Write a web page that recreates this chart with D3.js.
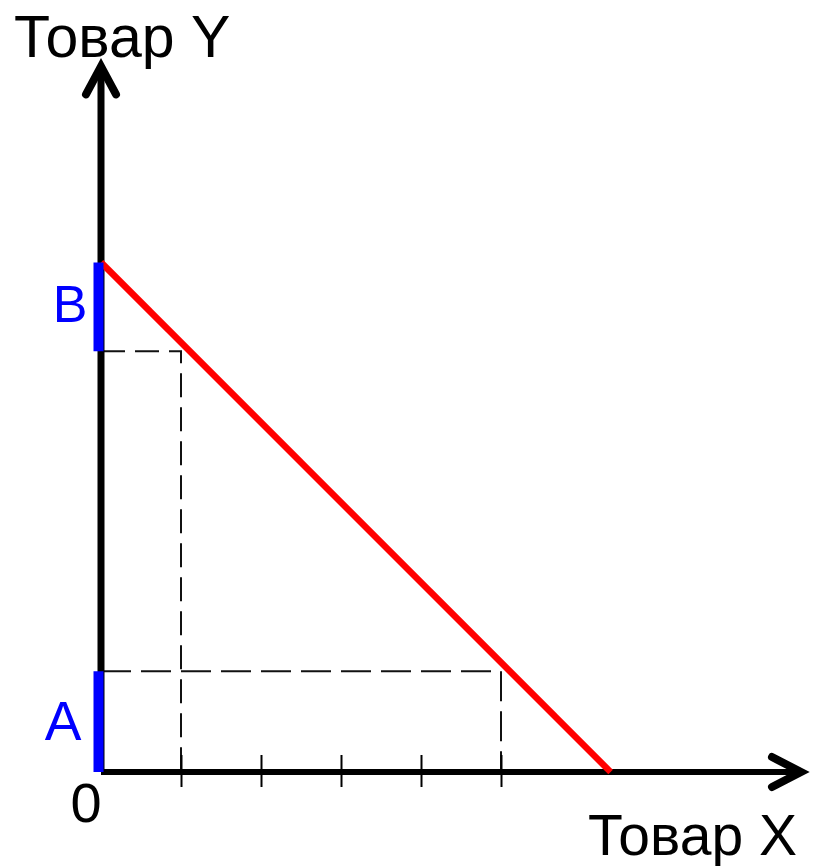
<!DOCTYPE html>
<html>
<head>
<meta charset="utf-8">
<script src="https://cdn.jsdelivr.net/npm/d3@7"></script>
<style>
  html, body { margin: 0; padding: 0; background: #fff; }
  svg { display: block; }
  text { font-family: "Liberation Sans", Arial, sans-serif; }
</style>
</head>
<body>
<script>
// ---- data ----
const xTicks = [1, 2, 3, 4, 5];
const axisMax = [8.75, 8.82];            // x, y extent of axes (arrow tips)
const budgetLine = [[0, 6.37], [6.37, 0]];
const dashedB = [[0, 5.26], [1, 5.26], [1, 0]];
const dashedA = [[0, 1.26], [5, 1.26], [5, 0]];
const segmentB = [6.37, 5.26];
const segmentA = [1.26, 0];
const axisLabels = ["Товар X", "Товар Y"];
const pointLabels = ["A", "B"];
const originLabel = "0";

// ---- drawing ----
const W = 813, H = 866;
const svg = d3.select("body").append("svg").attr("width", W).attr("height", H);

const x = d3.scaleLinear().domain([0, 5]).range([101, 501]);
const y = d3.scaleLinear().domain([0, 5]).range([772, 372]);

const line = d3.line().x(d => x(d[0])).y(d => y(d[1]));

// dashed guides
svg.append("path").attr("d", line(dashedB))
  .attr("fill", "none").attr("stroke", "#111").attr("stroke-width", 2)
  .attr("stroke-dasharray", "24,10");
svg.append("path").attr("d", line(dashedA))
  .attr("fill", "none").attr("stroke", "#111").attr("stroke-width", 2)
  .attr("stroke-dasharray", "30,10");

// x ticks
const axisG = svg.append("g").attr("transform", `translate(0,${y(0) - 17})`)
  .call(d3.axisBottom(x).tickValues(xTicks).tickSize(32).tickFormat(""));
axisG.select(".domain").remove();
axisG.selectAll(".tick line").attr("stroke", "#000").attr("stroke-width", 2);

// axes
svg.append("path").attr("d", line([[0, 0], [axisMax[0], 0]]))
  .attr("stroke", "#000").attr("stroke-width", 6).attr("fill", "none");
svg.append("path").attr("d", line([[0, 0], [0, axisMax[1]]]))
  .attr("stroke", "#000").attr("stroke-width", 7).attr("fill", "none");

// arrow heads
const tx = x(axisMax[0]), ty = y(0);
svg.append("path")
  .attr("d", `M${tx - 29},${ty - 15} L${tx},${ty} L${tx - 29},${ty + 15}`)
  .attr("fill", "none").attr("stroke", "#000").attr("stroke-width", 8)
  .attr("stroke-linejoin", "miter").attr("stroke-linecap", "round");
const ux = x(0), uy = y(axisMax[1]);
svg.append("path")
  .attr("d", `M${ux - 15},${uy + 28} L${ux},${uy} L${ux + 15},${uy + 28}`)
  .attr("fill", "none").attr("stroke", "#000").attr("stroke-width", 8)
  .attr("stroke-linejoin", "miter").attr("stroke-linecap", "round");

// budget line
svg.append("path").attr("d", line(budgetLine))
  .attr("fill", "none").attr("stroke", "#ff0000").attr("stroke-width", 6.5);

// blue segments
[segmentA, segmentB].forEach(s => {
  svg.append("line")
    .attr("x1", x(0) - 2.5).attr("x2", x(0) - 2.5)
    .attr("y1", y(s[0])).attr("y2", y(s[1]))
    .attr("stroke", "#0000ff").attr("stroke-width", 10)
    .attr("stroke-linecap", "butt");
});

// labels
svg.append("text").text(axisLabels[1]).attr("x", 14).attr("y", 57)
  .attr("font-size", 59).attr("fill", "#000");
svg.append("text").text(axisLabels[0]).attr("x", 588).attr("y", 855)
  .attr("font-size", 57).attr("fill", "#000");
svg.append("text").text(originLabel).attr("x", 86).attr("y", 822)
  .attr("text-anchor", "middle").attr("font-size", 56).attr("fill", "#000");
svg.append("text").text(pointLabels[0]).attr("x", 63).attr("y", 740)
  .attr("text-anchor", "middle").attr("font-size", 55).attr("fill", "#0000ff");
svg.append("text").text(pointLabels[1]).attr("x", 70).attr("y", 322)
  .attr("text-anchor", "middle").attr("font-size", 52).attr("fill", "#0000ff");
</script>
</body>
</html>
